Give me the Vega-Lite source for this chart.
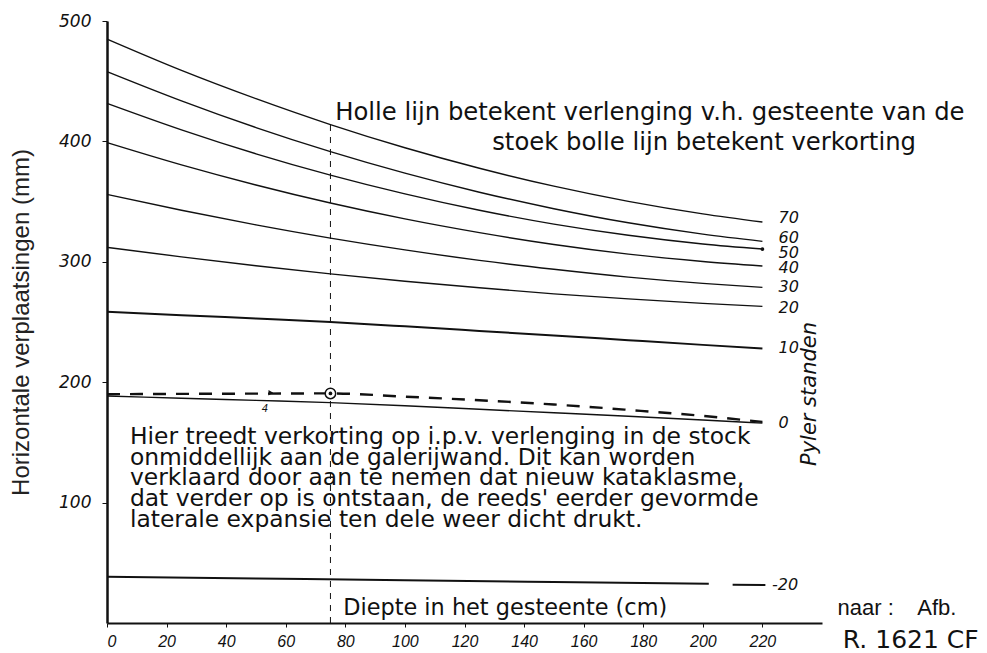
{
  "$schema": "https://vega.github.io/schema/vega-lite/v6.json",
  "width": 715,
  "height": 602,
  "autosize": {"type": "none"},
  "padding": {"left": 107, "top": 21, "right": 165, "bottom": 30},
  "background": "white",
  "config": {"view": {"stroke": null}},
  "datasets": {
    "lines": [
      {"s": "70", "x": 0, "y": 485}, {"s": "70", "x": 25, "y": 459}, {"s": "70", "x": 50, "y": 435.5}, {"s": "70", "x": 75, "y": 414}, {"s": "70", "x": 100, "y": 394.7}, {"s": "70", "x": 125, "y": 377.7}, {"s": "70", "x": 150, "y": 362.8}, {"s": "70", "x": 175, "y": 350.2}, {"s": "70", "x": 200, "y": 339.8}, {"s": "70", "x": 220, "y": 333},
      {"s": "60", "x": 0, "y": 458}, {"s": "60", "x": 25, "y": 433.7}, {"s": "60", "x": 50, "y": 411.5}, {"s": "60", "x": 75, "y": 391.5}, {"s": "60", "x": 100, "y": 373.6}, {"s": "60", "x": 125, "y": 357.8}, {"s": "60", "x": 150, "y": 344.1}, {"s": "60", "x": 175, "y": 332.4}, {"s": "60", "x": 200, "y": 323}, {"s": "60", "x": 220, "y": 317},
      {"s": "50", "x": 0, "y": 431.6}, {"s": "50", "x": 25, "y": 409.6}, {"s": "50", "x": 50, "y": 389.7}, {"s": "50", "x": 75, "y": 372}, {"s": "50", "x": 100, "y": 356.4}, {"s": "50", "x": 125, "y": 342.8}, {"s": "50", "x": 150, "y": 331.3}, {"s": "50", "x": 175, "y": 322}, {"s": "50", "x": 200, "y": 314.8}, {"s": "50", "x": 220, "y": 310.6},
      {"s": "40", "x": 0, "y": 399}, {"s": "40", "x": 25, "y": 380.5}, {"s": "40", "x": 50, "y": 363.8}, {"s": "40", "x": 75, "y": 348.8}, {"s": "40", "x": 100, "y": 335.6}, {"s": "40", "x": 125, "y": 324.2}, {"s": "40", "x": 150, "y": 314.4}, {"s": "40", "x": 175, "y": 306.4}, {"s": "40", "x": 200, "y": 300.3}, {"s": "40", "x": 220, "y": 296.5},
      {"s": "30", "x": 0, "y": 356}, {"s": "30", "x": 25, "y": 342.8}, {"s": "30", "x": 50, "y": 330.7}, {"s": "30", "x": 75, "y": 319.7}, {"s": "30", "x": 100, "y": 309.9}, {"s": "30", "x": 125, "y": 301.2}, {"s": "30", "x": 150, "y": 293.8}, {"s": "30", "x": 175, "y": 287.3}, {"s": "30", "x": 200, "y": 282.1}, {"s": "30", "x": 220, "y": 278.8},
      {"s": "20", "x": 0, "y": 312}, {"s": "20", "x": 25, "y": 304.1}, {"s": "20", "x": 50, "y": 296.7}, {"s": "20", "x": 75, "y": 290}, {"s": "20", "x": 100, "y": 283.9}, {"s": "20", "x": 125, "y": 278.4}, {"s": "20", "x": 150, "y": 273.4}, {"s": "20", "x": 175, "y": 269.2}, {"s": "20", "x": 200, "y": 265.5}, {"s": "20", "x": 220, "y": 263},
      {"s": "10", "x": 0, "y": 258.6}, {"s": "10", "x": 25, "y": 255.7}, {"s": "10", "x": 50, "y": 252.9}, {"s": "10", "x": 75, "y": 250}, {"s": "10", "x": 100, "y": 246.4}, {"s": "10", "x": 125, "y": 242.6}, {"s": "10", "x": 150, "y": 238.8}, {"s": "10", "x": 175, "y": 234.9}, {"s": "10", "x": 200, "y": 231}, {"s": "10", "x": 220, "y": 228},
      {"s": "0", "x": 0, "y": 188.5}, {"s": "0", "x": 25, "y": 186.7}, {"s": "0", "x": 50, "y": 184.9}, {"s": "0", "x": 75, "y": 183}, {"s": "0", "x": 100, "y": 180.5}, {"s": "0", "x": 125, "y": 177.5}, {"s": "0", "x": 150, "y": 174.6}, {"s": "0", "x": 175, "y": 171.7}, {"s": "0", "x": 200, "y": 168.6}, {"s": "0", "x": 220, "y": 166},
      {"s": "-20a", "x": 0, "y": 38.5}, {"s": "-20a", "x": 50, "y": 37}, {"s": "-20a", "x": 100, "y": 35.5}, {"s": "-20a", "x": 150, "y": 34}, {"s": "-20a", "x": 202, "y": 32.5},
      {"s": "-20b", "x": 210, "y": 31.8}, {"s": "-20b", "x": 221, "y": 31.6}
    ]
  },
  "encoding": {
    "x": {
      "field": "x", "type": "quantitative",
      "scale": {"domain": [0, 240], "nice": false, "zero": false},
      "axis": {
        "values": [0, 20, 40, 60, 80, 100, 120, 140, 160, 180, 200, 220],
        "title": null, "grid": false, "labelAngle": 0,
        "labelFont": "Liberation Sans", "labelFontStyle": "italic", "labelFontSize": 16,
        "labelColor": "#111", "labelPadding": 6, "tickSize": 4, "tickColor": "#111",
        "domainColor": "#111", "domainWidth": 2
      }
    },
    "y": {
      "field": "y", "type": "quantitative",
      "scale": {"domain": [0, 500], "nice": false, "zero": false},
      "axis": {
        "values": [100, 200, 300, 400, 500],
        "title": "Horizontale verplaatsingen (mm)", "grid": false,
        "titleFont": "Liberation Sans", "titleFontSize": 24, "titleFontWeight": "normal",
        "titleColor": "#222", "titlePadding": 25,
        "labelFont": "DejaVu Sans", "labelFontStyle": "italic", "labelFontWeight": 200, "labelFontSize": 17,
        "labelColor": "#111", "labelPadding": 11, "tickSize": 5, "tickColor": "#111",
        "domainColor": "#111", "domainWidth": 2.5
      }
    }
  },
  "layer": [
    {
      "data": {"name": "lines"},
      "transform": [{"filter": {"not": {"field": "s", "oneOf": ["10", "-20a", "-20b"]}}}],
      "mark": {"type": "line", "color": "#111", "strokeWidth": 1.4, "interpolate": "monotone"},
      "encoding": {"detail": {"field": "s", "type": "nominal"}}
    },
    {
      "data": {"name": "lines"},
      "transform": [{"filter": {"field": "s", "oneOf": ["10", "-20a", "-20b"]}}],
      "mark": {"type": "line", "color": "#111", "strokeWidth": 2, "interpolate": "monotone"},
      "encoding": {"detail": {"field": "s", "type": "nominal"}}
    },
    {
      "data": {"values": [
        {"x": 0, "y": 190}, {"x": 25, "y": 190.3}, {"x": 50, "y": 190.5}, {"x": 75, "y": 190.7}, {"x": 100, "y": 188}, {"x": 125, "y": 185}, {"x": 150, "y": 181.5}, {"x": 175, "y": 177}, {"x": 200, "y": 172}, {"x": 220, "y": 167}
      ]},
      "mark": {"type": "line", "color": "#111", "strokeWidth": 2.4, "strokeDash": [13, 10], "interpolate": "monotone"}
    },
    {
      "data": {"values": [{"x": 75, "y": 0, "y2": 418}]},
      "mark": {"type": "rule", "color": "#111", "strokeWidth": 1, "strokeDash": [6, 6]},
      "encoding": {"y2": {"field": "y2"}}
    },
    {
      "data": {"values": [{"x": 75, "y": 190.7}]},
      "mark": {"type": "point", "shape": "circle", "size": 110, "filled": true, "fill": "white", "stroke": "#111", "strokeWidth": 1.5, "opacity": 1}
    },
    {
      "data": {"values": [{"x": 75, "y": 190.7}, {"x": 220, "y": 310.6}]},
      "mark": {"type": "point", "shape": "circle", "size": 14, "filled": true, "color": "#111", "opacity": 1}
    },
    {
      "data": {"values": [{"x": 55, "y": 191.3}]},
      "mark": {"type": "point", "shape": "triangle-right", "size": 30, "filled": true, "color": "#111", "opacity": 1}
    },
    {
      "data": {"values": [{"x": 53, "y": 177.5, "t": "4"}]},
      "mark": {"type": "text", "font": "Liberation Sans", "fontStyle": "italic", "fontSize": 11, "color": "#111", "align": "center", "baseline": "middle"},
      "encoding": {"text": {"field": "t"}}
    },
    {
      "data": {"values": [
        {"x": 225.4, "y": 336, "t": "70"}, {"x": 225.4, "y": 320, "t": "60"}, {"x": 225.4, "y": 307.5, "t": "50"}, {"x": 225.4, "y": 295, "t": "40"}, {"x": 225.4, "y": 279, "t": "30"}, {"x": 225.4, "y": 261.6, "t": "20"}, {"x": 225.4, "y": 228.4, "t": "10"}, {"x": 225.4, "y": 166, "t": "0"}, {"x": 223.2, "y": 31.6, "t": "-20"}
      ]},
      "mark": {"type": "text", "font": "DejaVu Sans", "fontStyle": "italic", "fontWeight": 200, "fontSize": 16, "color": "#111", "align": "left", "baseline": "middle"},
      "encoding": {"text": {"field": "t"}}
    },
    {
      "data": {"values": [{"x": 236.1, "y": 190.2, "t": "Pyler standen"}]},
      "mark": {"type": "text", "font": "DejaVu Sans", "fontStyle": "italic", "fontWeight": 200, "fontSize": 21, "color": "#111", "align": "center", "baseline": "middle", "angle": 270},
      "encoding": {"text": {"field": "t"}}
    },
    {
      "data": {"values": [
        {"x": 76.6, "y": 423.6, "t": "Holle lijn betekent verlenging v.h. gesteente van de"},
        {"x": 129.3, "y": 398.7, "t": "stoek bolle lijn betekent verkorting"}
      ]},
      "mark": {"type": "text", "font": "DejaVu Sans", "fontSize": 24.3, "color": "#111", "align": "left", "baseline": "middle"},
      "encoding": {"text": {"field": "t"}}
    },
    {
      "data": {"values": [
        {"x": 7.7, "y": 154.5, "t": "Hier treedt verkorting op i.p.v. verlenging in de stock"},
        {"x": 7.7, "y": 137, "t": "onmiddellijk aan de galerijwand. Dit kan worden"},
        {"x": 7.7, "y": 120.2, "t": "verklaard door aan te nemen dat nieuw kataklasme,"},
        {"x": 7.7, "y": 102.8, "t": "dat verder op is ontstaan, de reeds' eerder gevormde"},
        {"x": 7.7, "y": 85.5, "t": "laterale expansie ten dele weer dicht drukt."}
      ]},
      "mark": {"type": "text", "font": "DejaVu Sans", "fontSize": 23.4, "color": "#111", "align": "left", "baseline": "middle"},
      "encoding": {"text": {"field": "t"}}
    },
    {
      "data": {"values": [
        {"x": 79.3, "y": 12.5, "t": "Diepte in het gesteente (cm)"}
      ]},
      "mark": {"type": "text", "font": "DejaVu Sans", "fontSize": 22.4, "color": "#111", "align": "left", "baseline": "middle"},
      "encoding": {"text": {"field": "t"}}
    },
    {
      "data": {"values": [
        {"x": 245.2, "y": 12.5, "t": "naar :"},
        {"x": 272, "y": 12.5, "t": "Afb."}
      ]},
      "mark": {"type": "text", "font": "Liberation Sans", "fontSize": 22, "color": "#111", "align": "left", "baseline": "middle"},
      "encoding": {"text": {"field": "t"}}
    },
    {
      "data": {"values": [
        {"x": 247, "y": -14.1, "t": "R. 1621 CF"}
      ]},
      "mark": {"type": "text", "font": "DejaVu Sans", "fontSize": 25, "color": "#111", "align": "left", "baseline": "middle"},
      "encoding": {"text": {"field": "t"}}
    }
  ]
}
